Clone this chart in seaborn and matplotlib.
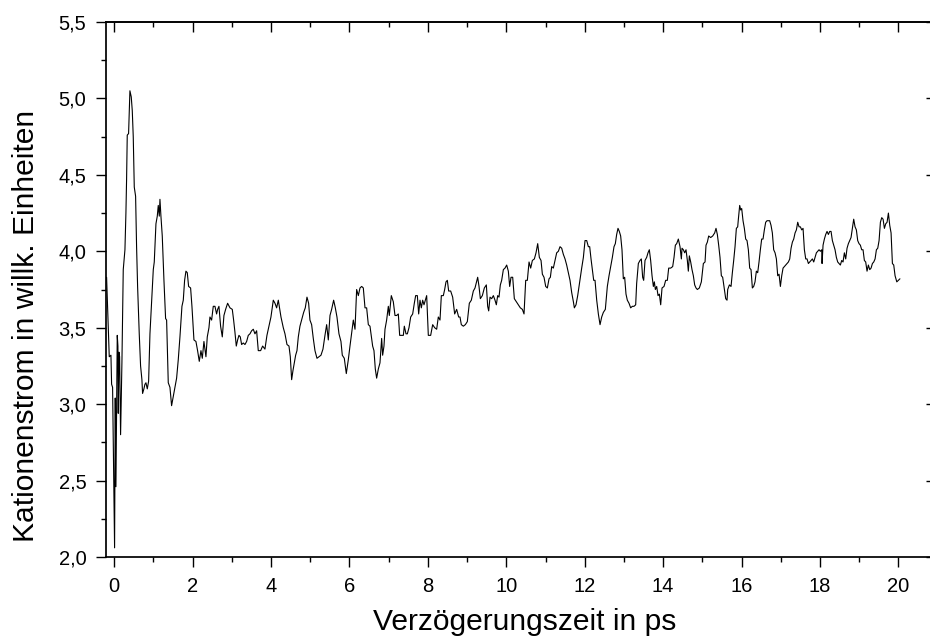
import matplotlib
matplotlib.use("Agg")
import matplotlib.pyplot as plt
import pandas as pd
import seaborn as sns
from matplotlib.ticker import FixedLocator, FixedFormatter, MultipleLocator

# ---- data ----
time_ps = [
    -0.195, -0.127, -0.084, -0.067, -0.042, 0.009, 0.026, 0.043, 0.077, 0.094, 0.103, 0.120, 0.137, 0.162,
    0.196, 0.230, 0.273, 0.298, 0.315, 0.332, 0.366, 0.400, 0.434, 0.460, 0.485, 0.511, 0.545, 0.570,
    0.596, 0.638, 0.672, 0.706, 0.723, 0.757, 0.783, 0.809, 0.843, 0.877, 0.911, 0.962, 0.996, 1.021,
    1.064, 1.098, 1.123, 1.149, 1.166, 1.191, 1.225, 1.268, 1.310, 1.336, 1.378, 1.421, 1.463, 1.506,
    1.548, 1.591, 1.633, 1.676, 1.727, 1.761, 1.795, 1.829, 1.863, 1.897, 1.948, 1.982, 2.033, 2.084,
    2.126, 2.169, 2.212, 2.246, 2.288, 2.339, 2.373, 2.416, 2.441, 2.484, 2.526, 2.569, 2.611, 2.637,
    2.671, 2.713, 2.756, 2.798, 2.841, 2.892, 2.952, 3.011, 3.045, 3.079, 3.113, 3.147, 3.181, 3.215,
    3.249, 3.292, 3.334, 3.377, 3.419, 3.462, 3.504, 3.547, 3.589, 3.632, 3.674, 3.734, 3.785, 3.844,
    3.895, 3.946, 3.997, 4.057, 4.100, 4.142, 4.185, 4.210, 4.253, 4.312, 4.355, 4.406, 4.457, 4.491,
    4.525, 4.559, 4.593, 4.627, 4.661, 4.695, 4.737, 4.780, 4.831, 4.873, 4.916, 4.958, 4.992, 5.035,
    5.077, 5.120, 5.171, 5.222, 5.273, 5.324, 5.375, 5.418, 5.460, 5.503, 5.545, 5.596, 5.639, 5.681,
    5.732, 5.783, 5.817, 5.868, 5.919, 5.970, 6.013, 6.098, 6.141, 6.183, 6.226, 6.268, 6.311, 6.353,
    6.396, 6.438, 6.481, 6.523, 6.549, 6.591, 6.625, 6.659, 6.693, 6.736, 6.778, 6.821, 6.846, 6.880,
    6.906, 6.948, 6.991, 7.016, 7.067, 7.118, 7.161, 7.203, 7.246, 7.280, 7.331, 7.374, 7.399, 7.442,
    7.476, 7.518, 7.561, 7.612, 7.654, 7.688, 7.731, 7.765, 7.799, 7.833, 7.867, 7.901, 7.935, 7.969,
    8.011, 8.071, 8.122, 8.173, 8.224, 8.266, 8.309, 8.343, 8.394, 8.428, 8.462, 8.496, 8.530, 8.581,
    8.632, 8.683, 8.734, 8.785, 8.819, 8.853, 8.904, 8.955, 9.006, 9.057, 9.108, 9.159, 9.202, 9.270,
    9.304, 9.338, 9.389, 9.440, 9.491, 9.525, 9.551, 9.585, 9.627, 9.670, 9.712, 9.746, 9.780, 9.814,
    9.848, 9.882, 9.925, 9.967, 10.010, 10.052, 10.086, 10.120, 10.163, 10.205, 10.256, 10.307, 10.358,
    10.410, 10.452, 10.495, 10.537, 10.580, 10.622, 10.665, 10.716, 10.758, 10.801, 10.843, 10.886,
    10.920, 10.962, 11.005, 11.047, 11.090, 11.124, 11.158, 11.200, 11.243, 11.285, 11.328, 11.370,
    11.413, 11.455, 11.498, 11.540, 11.583, 11.625, 11.668, 11.711, 11.736, 11.778, 11.821, 11.872,
    11.923, 11.966, 12.008, 12.051, 12.093, 12.127, 12.161, 12.195, 12.229, 12.263, 12.306, 12.348,
    12.391, 12.433, 12.475, 12.526, 12.577, 12.620, 12.662, 12.705, 12.747, 12.781, 12.815, 12.849,
    12.883, 12.917, 12.951, 12.985, 13.019, 13.053, 13.087, 13.130, 13.172, 13.215, 13.257, 13.300,
    13.325, 13.368, 13.410, 13.444, 13.478, 13.504, 13.538, 13.580, 13.614, 13.648, 13.682, 13.717,
    13.751, 13.776, 13.802, 13.836, 13.870, 13.904, 13.938, 13.972, 14.023, 14.065, 14.108, 14.142,
    14.193, 14.244, 14.278, 14.312, 14.346, 14.388, 14.431, 14.465, 14.482, 14.516, 14.550, 14.584,
    14.618, 14.643, 14.669, 14.703, 14.737, 14.771, 14.805, 14.839, 14.873, 14.924, 14.975, 15.026,
    15.069, 15.094, 15.128, 15.162, 15.213, 15.264, 15.315, 15.349, 15.383, 15.417, 15.451, 15.485,
    15.519, 15.553, 15.596, 15.630, 15.647, 15.690, 15.732, 15.766, 15.800, 15.834, 15.868, 15.902,
    15.919, 15.953, 15.979, 16.004, 16.038, 16.072, 16.106, 16.140, 16.174, 16.208, 16.242, 16.276,
    16.310, 16.344, 16.378, 16.412, 16.446, 16.480, 16.514, 16.548, 16.582, 16.616, 16.650, 16.684,
    16.718, 16.752, 16.786, 16.820, 16.855, 16.889, 16.923, 16.957, 16.991, 17.025, 17.059, 17.093,
    17.127, 17.161, 17.195, 17.229, 17.263, 17.297, 17.331, 17.365, 17.399, 17.433, 17.467, 17.501,
    17.535, 17.569, 17.603, 17.637, 17.671, 17.705, 17.739, 17.773, 17.807, 17.841, 17.875, 17.909,
    17.943, 17.977, 18.011, 18.045, 18.054, 18.079, 18.113, 18.147, 18.181, 18.215, 18.249, 18.283,
    18.317, 18.351, 18.385, 18.419, 18.453, 18.487, 18.521, 18.555, 18.589, 18.623, 18.657, 18.691,
    18.725, 18.759, 18.793, 18.827, 18.861, 18.895, 18.929, 18.963, 18.997, 19.031, 19.065, 19.099,
    19.133, 19.167, 19.201, 19.235, 19.270, 19.304, 19.338, 19.372, 19.406, 19.440, 19.474, 19.508,
    19.542, 19.576, 19.610, 19.644, 19.678, 19.712, 19.746, 19.780, 19.814, 19.848, 19.882, 19.916,
    19.960, 20.000, 20.040,
]

signal = [
    3.83, 3.31, 3.32, 3.13, 3.11, 2.06, 3.04, 2.46, 3.45, 3.38, 2.94, 3.34, 3.31, 2.80,
    3.27, 3.88, 4.01, 4.25, 4.47, 4.76, 4.77, 5.05, 5.01, 4.92, 4.75, 4.42, 4.36, 4.03,
    3.77, 3.46, 3.25, 3.16, 3.07, 3.10, 3.13, 3.14, 3.10, 3.15, 3.46, 3.72, 3.88, 3.93,
    4.18, 4.23, 4.30, 4.23, 4.34, 4.23, 4.10, 3.81, 3.56, 3.55, 3.14, 3.11, 2.99, 3.05,
    3.11, 3.17, 3.29, 3.44, 3.64, 3.68, 3.81, 3.87, 3.86, 3.77, 3.76, 3.64, 3.42, 3.41,
    3.35, 3.28, 3.35, 3.30, 3.41, 3.31, 3.44, 3.50, 3.57, 3.55, 3.64, 3.64, 3.59, 3.62,
    3.64, 3.51, 3.44, 3.58, 3.62, 3.66, 3.63, 3.62, 3.55, 3.47, 3.38, 3.42, 3.45, 3.44,
    3.39, 3.40, 3.39, 3.41, 3.45, 3.46, 3.48, 3.49, 3.46, 3.48, 3.35, 3.35, 3.38, 3.36,
    3.45, 3.51, 3.57, 3.68, 3.66, 3.63, 3.68, 3.64, 3.57, 3.50, 3.46, 3.39, 3.38, 3.31,
    3.16, 3.22, 3.27, 3.32, 3.35, 3.44, 3.51, 3.55, 3.60, 3.63, 3.70, 3.66, 3.55, 3.52,
    3.43, 3.35, 3.30, 3.31, 3.32, 3.36, 3.45, 3.52, 3.42, 3.58, 3.62, 3.68, 3.63, 3.57,
    3.46, 3.41, 3.32, 3.30, 3.20, 3.29, 3.38, 3.55, 3.49, 3.75, 3.71, 3.76, 3.77, 3.76,
    3.63, 3.63, 3.52, 3.51, 3.46, 3.38, 3.35, 3.23, 3.17, 3.23, 3.27, 3.43, 3.32, 3.38,
    3.49, 3.55, 3.64, 3.58, 3.71, 3.67, 3.58, 3.58, 3.59, 3.45, 3.45, 3.45, 3.51, 3.46,
    3.46, 3.50, 3.57, 3.59, 3.66, 3.71, 3.71, 3.59, 3.68, 3.63, 3.68, 3.65, 3.68, 3.71,
    3.45, 3.45, 3.52, 3.50, 3.49, 3.57, 3.55, 3.71, 3.71, 3.75, 3.80, 3.81, 3.74, 3.74,
    3.70, 3.59, 3.62, 3.57, 3.57, 3.52, 3.51, 3.52, 3.54, 3.66, 3.68, 3.74, 3.76, 3.83,
    3.77, 3.69, 3.71, 3.76, 3.78, 3.64, 3.61, 3.70, 3.69, 3.71, 3.68, 3.65, 3.71, 3.70,
    3.78, 3.81, 3.88, 3.89, 3.91, 3.87, 3.77, 3.83, 3.83, 3.69, 3.67, 3.65, 3.63,
    3.62, 3.59, 3.81, 3.81, 3.93, 3.89, 3.94, 3.95, 3.99, 4.05, 3.96, 3.94,
    3.85, 3.83, 3.77, 3.76, 3.82, 3.83, 3.90, 3.89, 3.94, 3.99, 4.00, 4.03,
    4.02, 3.98, 3.95, 3.91, 3.86, 3.81, 3.73, 3.67, 3.63, 3.65, 3.71, 3.80,
    3.89, 3.96, 4.07, 4.07, 4.03, 4.03, 3.95, 3.88, 3.81, 3.81, 3.68, 3.59,
    3.52, 3.57, 3.60, 3.62, 3.77, 3.84, 3.90, 3.96, 4.03, 4.05, 4.11, 4.15,
    4.13, 4.10, 4.01, 3.82, 3.83, 3.72, 3.68, 3.66, 3.63, 3.64, 3.64, 3.65,
    3.79, 3.92, 3.94, 3.95, 3.83, 3.81, 3.94, 3.96, 3.99, 4.01, 3.94, 3.84,
    3.77, 3.80, 3.75, 3.77, 3.71, 3.72, 3.65, 3.76, 3.77, 3.81, 3.81, 3.89,
    3.89, 3.90, 3.96, 4.04, 4.05, 4.08, 4.03, 3.95, 4.02, 4.01, 3.99, 4.01,
    3.94, 3.87, 3.97, 3.93, 3.88, 3.84, 3.78, 3.76, 3.75, 3.76, 3.80, 3.92,
    3.93, 4.04, 4.06, 4.10, 4.09, 4.10, 4.12, 4.15, 4.11, 4.04, 3.96, 3.84,
    3.83, 3.77, 3.69, 3.68, 3.75, 3.78, 3.77, 3.86, 3.94, 4.03, 4.15, 4.16,
    4.21, 4.30, 4.27, 4.28, 4.20, 4.15, 4.08, 4.07, 4.01, 3.89, 3.88, 3.76,
    3.77, 3.80, 3.87, 3.86, 3.93, 4.01, 4.08, 4.08, 4.14, 4.19, 4.20, 4.20,
    4.20, 4.17, 4.12, 4.01, 3.99, 3.95, 3.84, 3.85, 3.77, 3.84, 3.89, 3.90,
    3.91, 3.92, 3.93, 3.95, 4.02, 4.06, 4.08, 4.12, 4.14, 4.19, 4.16, 4.16,
    4.14, 4.15, 4.01, 3.95, 3.95, 3.92, 3.93, 3.94, 3.95, 3.93, 3.96, 3.99,
    4.00, 4.01, 4.00, 4.01, 3.92, 4.04, 4.08, 4.11, 4.13, 4.11, 4.13, 4.13,
    4.07, 4.04, 4.01, 3.96, 3.93, 3.92, 3.91, 3.94, 3.93, 3.99, 3.95, 4.02,
    4.05, 4.07, 4.09, 4.15, 4.21, 4.16, 4.14, 4.07, 4.05, 4.04, 4.01, 4.01,
    3.94, 3.93, 3.87, 3.91, 3.88, 3.89, 3.92, 3.93, 3.95, 4.01, 4.02, 4.07,
    4.19, 4.22, 4.21, 4.15, 4.18, 4.19, 4.25, 4.17, 4.12, 3.92, 3.91, 3.84,
    3.80, 3.81, 3.82,
]

x_ticks = [0, 2, 4, 6, 8, 10, 12, 14, 16, 18, 20]
x_tick_labels = ["0", "2", "4", "6", "8", "10", "12", "14", "16", "18", "20"]
y_ticks = [2.0, 2.5, 3.0, 3.5, 4.0, 4.5, 5.0, 5.5]
y_tick_labels = ["2,0", "2,5", "3,0", "3,5", "4,0", "4,5", "5,0", "5,5"]

x_label = "Verzögerungszeit in ps"
y_label = "Kationenstrom in willk. Einheiten"

# ---- styling ----
sns.set_style("white")
plt.rcParams["font.family"] = ["Liberation Sans", "DejaVu Sans"]
plt.rcParams["axes.labelcolor"] = "black"
plt.rcParams["text.color"] = "black"

W, H = 930, 644
fig = plt.figure(figsize=(W / 100, H / 100), dpi=100)
ax = fig.add_axes([106 / W, 1 - 557 / H, 830 / W, 535 / H])

df = pd.DataFrame({"t": time_ps, "s": signal})
sns.lineplot(data=df, x="t", y="s", ax=ax, color="black", linewidth=0.8,
             estimator=None, sort=False)

ax.set_xlim(-0.21, 20.96)
ax.set_ylim(2.0, 5.5)

ax.xaxis.set_major_locator(FixedLocator(x_ticks))
ax.xaxis.set_major_formatter(FixedFormatter(x_tick_labels))
ax.xaxis.set_minor_locator(MultipleLocator(1))
ax.yaxis.set_major_locator(FixedLocator(y_ticks))
ax.yaxis.set_major_formatter(FixedFormatter(y_tick_labels))
ax.yaxis.set_minor_locator(MultipleLocator(0.25))

tick_font = 14.5
ax.tick_params(which="both", bottom=True, left=True, top=False, right=False)
ax.tick_params(which="major", direction="out", length=7.2, width=1.0,
               labelsize=tick_font, pad=7, colors="black")
ax.tick_params(which="minor", direction="out", length=3.6, width=1.0, colors="black")

for sp in ax.spines.values():
    sp.set_linewidth(1.25)
    sp.set_color("black")

# inward ticks on top and right
top = ax.secondary_xaxis("top")
top.xaxis.set_major_locator(FixedLocator(x_ticks))
top.xaxis.set_minor_locator(MultipleLocator(1))
top.tick_params(which="both", top=True, bottom=False, labeltop=False)
top.tick_params(which="major", direction="in", length=7.2, width=1.0, colors="black")
top.tick_params(which="minor", direction="in", length=3.6, width=1.0, colors="black")
top.spines["top"].set_linewidth(1.25)

right = ax.secondary_yaxis("right")
right.yaxis.set_major_locator(FixedLocator(y_ticks))
right.yaxis.set_minor_locator(MultipleLocator(0.25))
right.tick_params(which="both", right=True, left=False, labelright=False)
right.tick_params(which="major", direction="in", length=7.2, width=1.0, colors="black")
right.tick_params(which="minor", direction="in", length=3.6, width=1.0, colors="black")

ax.set_xlabel(x_label, fontsize=21.6, va="center", ha="center")
ax.set_ylabel(y_label, fontsize=21.6, va="center", ha="center")
ax.xaxis.set_label_coords((525 - 106) / 830, (557 - 622) / 535)
ax.yaxis.set_label_coords((26 - 106) / 830, 1 - (326 - 22) / 535)

fig.savefig("out.png", dpi=100)
